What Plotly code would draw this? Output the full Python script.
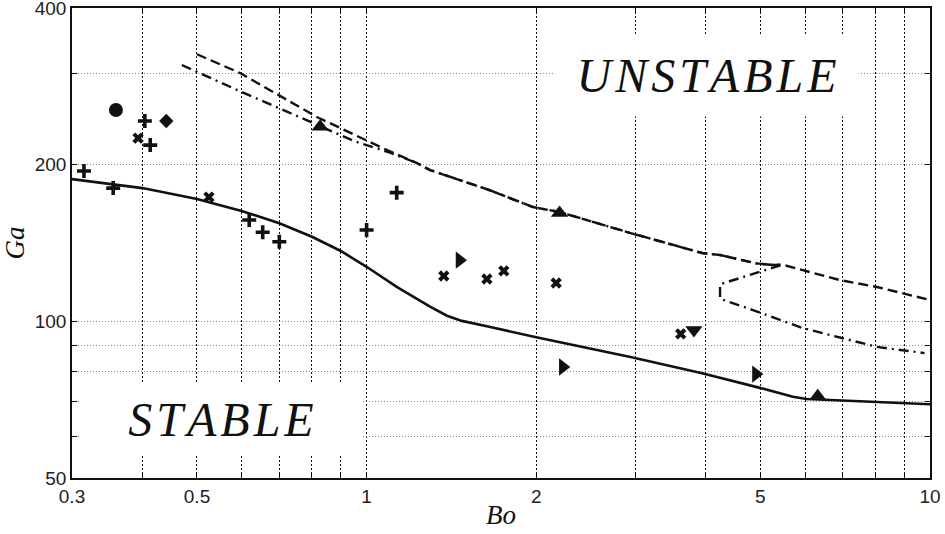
import plotly.graph_objects as go

# stability boundary (solid)
bo_stable = [0.3, 0.4, 0.5, 0.572, 0.6, 0.7, 0.8, 0.9, 1.0, 1.131, 1.296, 1.389, 1.476, 1.65, 2.0, 2.94, 3.94, 4.99, 5.71, 6.04, 10]
ga_stable = [187.6, 180.3, 171.8, 165.6, 163, 154.3, 145.4, 136.5, 127.3, 116.5, 106.7, 102.5, 100.2, 97.6, 93.2, 85.4, 79.5, 74.5, 71.6, 70.9, 69.3]

# upper boundary (dashed)
bo_dash = [0.5, 0.596, 0.816, 1.07, 1.229, 1.296, 1.65, 1.973, 2.2, 2.94, 3.94, 4.24, 4.92, 5.26, 5.47, 6.92, 8.05, 10]
ga_dash = [326, 300, 247, 215, 201.4, 195.3, 178.8, 165.8, 162.2, 147.8, 135.3, 134.1, 129.2, 128.3, 128.5, 120, 116.4, 109.9]

# upper boundary (dash-dot)
bo_dashdot = [0.47, 0.579, 0.803, 0.95, 1.1, 1.229, 1.296, 1.65, 1.973, 2.2, 2.94, 3.94, 4.24, 4.92, 5.26, 5.47, 4.24, 4.24, 4.85, 5.94, 8.05, 9.78]
ga_dashdot = [310.8, 280.7, 240.5, 222, 211, 201.4, 195.3, 178.8, 165.8, 162.2, 147.8, 135.3, 134.1, 129.2, 128.3, 128.5, 117.8, 110.5, 105.1, 97.1, 89.3, 86.9]

# experiments
plus_bo = [0.315, 0.355, 0.404, 0.413, 0.619, 0.654, 0.7, 1.0, 1.131]
plus_ga = [194.5, 180.3, 242.6, 218.1, 156.6, 148.3, 142.2, 149.8, 176.7]
cross_bo = [0.393, 0.525, 1.371, 1.635, 1.752, 2.17, 3.61]
cross_ga = [225, 173.3, 122.2, 120.6, 125, 118.5, 94.6]
circle_bo, circle_ga = [0.359], [254.8]
diamond_bo, diamond_ga = [0.441], [242.6]
tri_up_bo = [0.827, 2.2, 6.32]
tri_up_ga = [236.5, 161.5, 71.8]
tri_right_bo = [1.462, 2.23, 4.91]
tri_right_ga = [131.1, 81.7, 79.2]
tri_down_bo, tri_down_ga = [3.81], [96.2]

x_ticks = [0.3, 0.4, 0.5, 0.6, 0.7, 0.8, 0.9, 1, 2, 3, 4, 5, 6, 7, 8, 9, 10]
x_labels = ['0.3', '', '0.5', '', '', '', '', '1', '2', '', '', '5', '', '', '', '', '10']
y_ticks = [50, 60, 70, 80, 90, 100, 200, 300, 400]
y_labels = ['50', '', '', '', '', '100', '200', '', '400']

ink = '#111111'
fig = go.Figure()

fig.add_trace(go.Scatter(x=bo_stable, y=ga_stable, mode='lines', line=dict(color=ink, width=2.6)))
fig.add_trace(go.Scatter(x=bo_dash, y=ga_dash, mode='lines', line=dict(color=ink, width=2.4, dash='10px,5px')))
fig.add_trace(go.Scatter(x=bo_dashdot, y=ga_dashdot, mode='lines', line=dict(color=ink, width=2.4, dash='10px,5px,2px,5px')))

def pts(x, y, symbol, size, lw=0):
    fig.add_trace(go.Scatter(x=x, y=y, mode='markers',
                             marker=dict(symbol=symbol, size=size, color=ink,
                                         line=dict(color=ink, width=lw))))

pts(plus_bo, plus_ga, 'cross-thin', 10, 3.6)
pts(cross_bo, cross_ga, 'x', 10)
pts(circle_bo, circle_ga, 'circle', 14)
pts(diamond_bo, diamond_ga, 'diamond', 11)
pts(tri_up_bo, tri_up_ga, 'triangle-up', 15)
pts(tri_right_bo, tri_right_ga, 'triangle-right', 15)
pts(tri_down_bo, tri_down_ga, 'triangle-down', 15)

hs = '\u200a'
fig.add_annotation(xref='paper', yref='paper', x=0.739, y=0.857, text=hs.join('UNSTABLE'),
                   xanchor='center', yanchor='middle',
                   showarrow=False, bgcolor='white', width=303, height=81, borderpad=0,
                   font=dict(family='Liberation Serif', size=48, color=ink, style='italic'))
fig.add_annotation(xref='paper', yref='paper', x=0.174, y=0.1255, text=hs.join('STABLE'),
                   xanchor='center', yanchor='middle',
                   showarrow=False, bgcolor='white', width=282, height=72, borderpad=0,
                   font=dict(family='Liberation Serif', size=48, color=ink, style='italic'))

axis_common = dict(showline=True, linecolor=ink, linewidth=1.5, mirror='ticks',
                   ticks='inside', ticklen=5, tickcolor=ink, tickwidth=1.2,
                   tickfont=dict(family='Liberation Sans', size=19, color='#222'),
                   ticklabeloverflow='allow',
                   zeroline=False, automargin=False)

fig.update_xaxes(type='log', range=[-0.52288, 1.00001], tickvals=x_ticks, ticktext=x_labels,
                 showgrid=True, gridcolor='#111', gridwidth=1, griddash='2px,2px',
                 title=dict(text='Bo', standoff=0,
                            font=dict(family='Liberation Serif', size=27, style='italic', color=ink)),
                 **axis_common)
fig.update_yaxes(type='log', range=[1.698965, 2.602065], tickvals=y_ticks, ticktext=y_labels,
                 showgrid=True, gridcolor='#888', gridwidth=1, griddash='1px,2px',
                 title=dict(text='Ga', standoff=8,
                            font=dict(family='Liberation Serif', size=27, style='italic', color=ink)),
                 **axis_common)

fig.update_layout(width=945, height=534, margin=dict(l=72, r=15, t=8, b=56),
                  plot_bgcolor='white', paper_bgcolor='white', showlegend=False)

# page body has a default 8px margin; drop it so the figure fills the window
fig.write_html("out.html", config={'displayModeBar': False},
               post_script="document.body.style.margin='0';")
